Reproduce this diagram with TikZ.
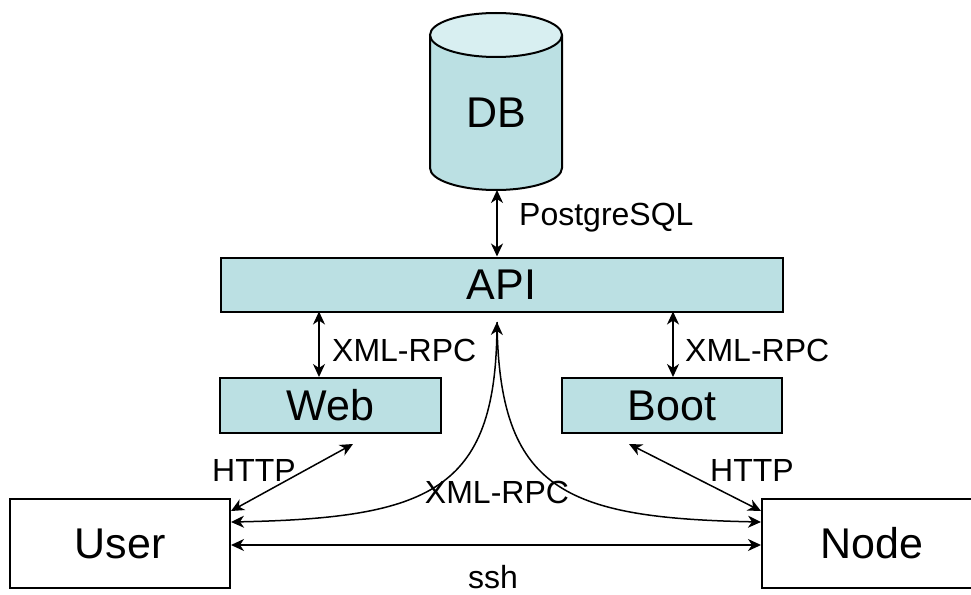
\documentclass[tikz,border=0pt]{standalone}
\usepackage{fontspec}
\setmainfont{Liberation Sans}
\usetikzlibrary{arrows.meta}
\definecolor{boxfill}{HTML}{BBE0E3}
\definecolor{lidfill}{HTML}{D8EFF1}
\tikzset{
	bigbox/.style={draw, line width=2pt, fill=boxfill, inner sep=0pt, font=\fontsize{43}{50}\selectfont},
	plainbox/.style={draw, line width=2pt, fill=white, inner sep=0pt, font=\fontsize{43}{50}\selectfont},
	lbl/.style={inner sep=0pt, font=\fontsize{32}{38}\selectfont},
	tip/.style={-{Stealth[length=13pt,width=12pt,inset=4pt]}},
	link/.style={line width=1.5pt, {Stealth[length=13pt,width=12pt,inset=4pt]}-{Stealth[length=13pt,width=12pt,inset=4pt]}}
}

\begin{document}
\begin{tikzpicture}[x=1pt, y=-1pt]
			%%%%% START %%%%%
			\useasboundingbox (0, 0) rectangle (971, 594);
			
			% database cylinder
			\draw[line width=2pt, fill=boxfill] (430, 35) -- (430, 168) arc[start angle=180, end angle=0, x radius=66, y radius=22] -- (562, 35);
			\draw[line width=2pt, fill=lidfill] (496, 35) ellipse[x radius=66, y radius=22];
			\node (db) at (496, 113) {\fontsize{43}{50}\selectfont DB};
			\coordinate (dbbot) at (497, 190);
			
			% boxes
			\node[bigbox, minimum width=562, minimum height=54] (api) at (501.5, 284.5) {API};
			\node[bigbox, minimum width=221, minimum height=55] (web) at (330.5, 405.5) {Web};
			\node[bigbox, minimum width=220, minimum height=55] (boot) at (672, 405.5) {Boot};
			\node[plainbox, minimum width=220, minimum height=89] (user) at (120, 543.5) {User};
			\node[plainbox, minimum width=220, minimum height=89] (node) at (872, 543.5) {Node};
			
			% links
			\draw[link] (dbbot) -- (dbbot |- api.north);
			\node[lbl, anchor=west] (pglbl) at (519, 218) {PostgreSQL};
			
			\coordinate (apiweb) at (319, 311.5);
			\coordinate (apiboot) at (673, 311.5);
			\draw[link] (apiweb) -- (apiweb |- web.north);
			\draw[link] (apiboot) -- (apiboot |- boot.north);
			\node[lbl, anchor=west] (rpcweb) at (332, 350) {XML-RPC};
			\node[lbl, anchor=west] (rpcboot) at (685, 350) {XML-RPC};
			
			\coordinate (webin) at (353, 444);
			\coordinate (bootin) at (629, 444);
			\coordinate (userhi) at (231, 511);
			\coordinate (nodehi) at (761, 511);
			\draw[link] (userhi) -- (webin);
			\draw[link] (nodehi) -- (bootin);
			\node[lbl] (httpweb) at (254, 470) {HTTP};
			\node[lbl] (httpboot) at (752, 470) {HTTP};
			
			\coordinate (apimid) at (497, 322);
			\coordinate (usermid) at (231, 522);
			\coordinate (nodemid) at (761, 522);
			\draw[link] (usermid) .. controls (430, 518) and (495, 490) .. (apimid);
			\draw[line width=1.5pt, tip] (apimid) .. controls (499, 490) and (564, 518) .. (nodemid);
			\node[lbl] (rpcmid) at (497, 492) {XML-RPC};
			
			\draw[link] (user.east |- 0, 545) -- (node.west |- 0, 545);
			\node[lbl] (sshlbl) at (493, 577) {ssh};
			%%%%% END %%%%%
		\end{tikzpicture}
\end{document}
